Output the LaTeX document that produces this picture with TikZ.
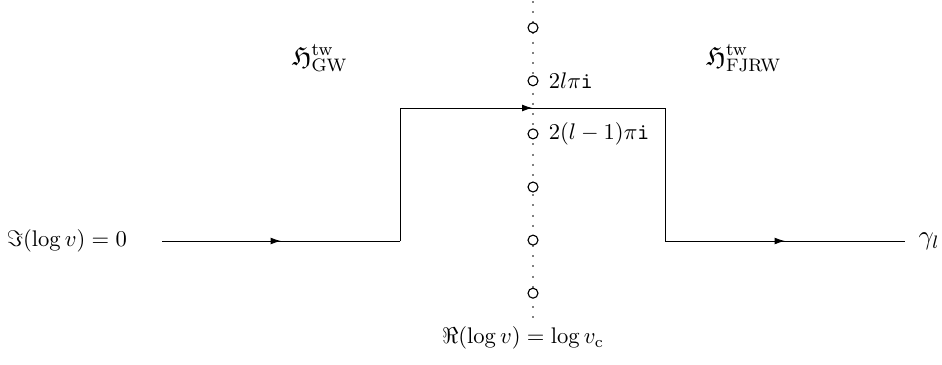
\documentclass[tikz,border=0pt]{standalone}
\usepackage{amsmath,amssymb}
\usetikzlibrary{arrows.meta,positioning,decorations.markings}
\tikzset{
  pole/.style={circle,draw,fill=white,inner sep=0pt,minimum size=4.4pt,line width=.5pt},
  wall/.style={draw=gray,line width=.9pt,dash pattern=on .9pt off 3.6pt},
  flow/.style={postaction={decorate},decoration={markings,
    mark=at position .5 with {\arrow{Latex[length=4.6pt,width=3pt]}}}},
  lab/.style={font=\normalsize},
  biglab/.style={font=\large}
}

\begin{document}
\begin{tikzpicture}[x=0.4425pt,y=-0.4425pt]
\useasboundingbox (0,0) rectangle (942,364);
% separating wall and poles
\coordinate (wtop) at (533,1);
\coordinate (wbot) at (533,322);
\draw[wall] (wtop)--(wbot);
\foreach \k in {0,...,5}
  \node[pole] (p\k) at (533,{27.7+53.1*\k}) {};
\node[lab,right=1pt of p1] (polel) {$2l\pi\mathtt{i}$};
\node[lab,right=1pt of p2] (polelm) {$2(l-1)\pi\mathtt{i}$};
\node[lab] (relab) at (523,338) {$\Re(\log v)=\log v_{\mathrm{c}}$};

% the contour
\coordinate (gwstart) at (162,241);
\coordinate (gwcorner) at (400,241);
\coordinate (gwtop) at (400,108);
\coordinate (fjtop) at (665,108);
\coordinate (fjcorner) at (665,241);
\coordinate (fjend) at (905,241);
\draw[flow] (gwstart)--(gwcorner);
\draw (gwcorner)--(gwtop);
\draw[flow] (gwtop)--(fjtop);
\draw (fjtop)--(fjcorner);
\draw[flow] (fjcorner)--(fjend);

\node[lab,left=12pt of gwstart] (imlab) {$\Im(\log v)=0$};
\node[biglab,right=2.5pt of fjend] (gamma) {$\gamma_l$};
\node[biglab] (gwlab) at (320,58) {$\mathfrak{H}^{\mathrm{tw}}_{\mathrm{GW}}$};
\node[biglab] (fjlab) at (744,58) {$\mathfrak{H}^{\mathrm{tw}}_{\mathrm{FJRW}}$};
\end{tikzpicture}
\end{document}
